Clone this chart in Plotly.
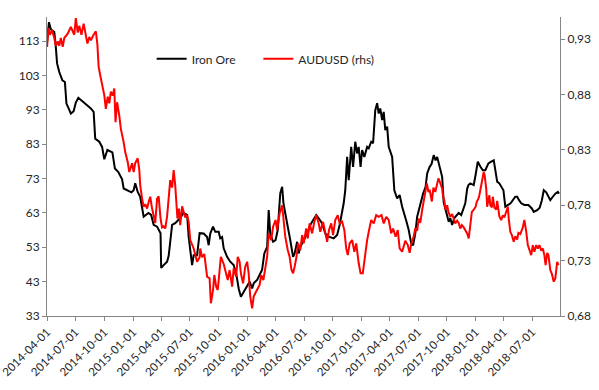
import plotly.graph_objects as go

iron_dates = [
 "2014-04-01","2014-04-07","2014-04-13","2014-04-24","2014-04-28","2014-05-03","2014-05-10","2014-05-20","2014-05-28",
 "2014-06-02","2014-06-09","2014-06-16","2014-06-25","2014-07-02","2014-07-10","2014-07-19","2014-08-03","2014-08-19",
 "2014-08-28","2014-09-02","2014-09-15","2014-09-24","2014-10-01","2014-10-11","2014-10-27","2014-11-04","2014-11-15",
 "2014-11-27","2014-12-02","2014-12-15","2014-12-27","2015-01-03","2015-01-08","2015-01-16","2015-01-24","2015-01-30",
 "2015-02-04","2015-02-19","2015-02-28","2015-03-08","2015-03-19","2015-03-30","2015-04-01","2015-04-09","2015-04-20",
 "2015-04-25","2015-04-30","2015-05-06","2015-05-16","2015-06-01","2015-06-11","2015-06-23","2015-06-28","2015-07-09",
 "2015-07-14","2015-07-25","2015-08-02","2015-08-15","2015-08-26","2015-08-31","2015-09-05","2015-09-14","2015-09-21",
 "2015-10-02","2015-10-07","2015-10-13","2015-10-18","2015-10-29","2015-11-08","2015-11-19","2015-11-27","2015-12-05",
 "2015-12-12","2015-12-21","2016-01-01","2016-01-09","2016-01-17","2016-01-22","2016-02-02","2016-02-12","2016-02-18",
 "2016-02-25","2016-03-05","2016-03-10","2016-03-15","2016-03-24","2016-04-01","2016-04-08","2016-04-13","2016-04-16",
 "2016-04-22","2016-04-26","2016-05-02","2016-05-10","2016-05-18","2016-05-27","2016-06-01","2016-06-09","2016-06-14",
 "2016-06-19","2016-06-30","2016-07-11","2016-07-21","2016-08-01","2016-08-09","2016-08-17","2016-08-28","2016-09-07",
 "2016-09-18","2016-10-04","2016-10-15","2016-10-23","2016-10-31","2016-11-05","2016-11-10","2016-11-16","2016-11-21",
 "2016-11-29","2016-12-05","2016-12-12","2016-12-18","2016-12-23","2016-12-29","2017-01-03","2017-01-10","2017-01-19",
 "2017-01-24","2017-02-01","2017-02-07","2017-02-14","2017-02-20","2017-02-25","2017-03-02","2017-03-08","2017-03-13",
 "2017-03-18","2017-03-24","2017-03-29","2017-04-09","2017-04-16","2017-04-25","2017-05-03","2017-05-11","2017-05-18",
 "2017-05-25","2017-06-01","2017-06-09","2017-06-15","2017-06-22","2017-06-28","2017-07-03","2017-07-11","2017-07-17",
 "2017-07-25","2017-07-30","2017-08-07","2017-08-13","2017-08-20","2017-08-26","2017-08-31","2017-09-05","2017-09-10",
 "2017-09-16","2017-09-21","2017-09-30","2017-10-07","2017-10-12","2017-10-18","2017-10-25","2017-11-01","2017-11-08",
 "2017-11-16","2017-11-22","2017-11-29","2017-12-05","2017-12-09","2017-12-15","2017-12-26","2018-01-01","2018-01-08",
 "2018-01-16","2018-01-24","2018-02-01","2018-02-11","2018-02-20","2018-02-28","2018-03-05","2018-03-11","2018-03-18",
 "2018-03-26","2018-03-31","2018-04-06","2018-04-14","2018-04-23","2018-05-08","2018-05-14","2018-05-20","2018-05-27",
 "2018-06-06","2018-06-19","2018-06-30","2018-07-06","2018-07-17","2018-07-25","2018-08-01","2018-08-07","2018-08-15",
 "2018-08-22","2018-08-28","2018-09-05","2018-09-13","2018-09-21","2018-09-25"]
iron_ore = [
 112.7,118.5,116.4,115.6,112.3,106.5,104,101.6,101.1,
 94.8,93.4,91.9,92.6,95.1,96.5,95.8,94.8,93.4,
 92.4,84.6,83.7,82.2,78.6,81.3,80.6,75.9,74.9,
 72.8,70.1,69.6,69.0,69.6,71.6,69.1,67.7,64.5,
 61.9,63,62.4,59.5,59,57.1,47,47.8,48.8,
 50.5,55.1,59.5,60,61.5,63,62.4,56,47.8,
 50.7,50.7,57.1,57,56,53.6,57,59,57.5,
 57.5,55.6,56,52.7,50.2,48.8,47.8,45.4,41,
 38.6,40.1,41.5,43,41,42.5,43.5,45.4,46.5,
 51.2,53.1,63.8,57,54.6,55.1,58,64,68.7,
 70.6,66,62.9,59.5,55.1,50.2,51.2,54.6,51.2,
 53.1,55.1,57,59.5,61.4,62.4,61.4,59.9,57,
 56.1,55.6,56.6,59.5,62.9,65.8,69.6,79.3,72.5,
 82.2,76.4,83.7,80.3,82.2,76.4,81.3,79.3,82.2,
 81.8,83.7,83.3,92.9,94.9,91.9,93.4,90,92.4,
 87.1,88.1,82.2,79.3,69.6,67.2,68.2,64.8,62.9,
 60.4,58,54.1,53.6,57,61.9,63.8,66.7,68.6,
 70.6,74.5,76.4,77.2,79.8,78.3,79.3,77.4,75.4,
 73.5,66,62.4,60.4,61.5,59.5,61.5,62.4,63,
 62.4,63.8,65.8,70,71.1,71.6,71.1,74.1,77.9,
 76.5,75.4,75.4,77.4,77.9,78.3,75.5,72.1,71.6,
 70.1,69.6,64.8,65.3,65.8,67.7,67.7,66.7,65.8,
 65.3,65.3,64.3,63.3,63.8,64.5,66.7,69.6,69,
 67.7,66.7,67.7,68.6,69.1,68.6]

aud_dates = [
 "2014-04-01","2014-04-05","2014-04-10","2014-04-17","2014-04-24","2014-04-29","2014-05-05","2014-05-10","2014-05-15",
 "2014-05-21","2014-05-26","2014-06-06","2014-06-16","2014-06-27","2014-07-02","2014-07-08","2014-07-13","2014-07-20",
 "2014-07-27","2014-08-03","2014-08-08","2014-08-14","2014-08-19","2014-08-28","2014-09-04","2014-09-09","2014-09-13",
 "2014-09-18","2014-09-26","2014-10-01","2014-10-06","2014-10-12","2014-10-17","2014-10-22","2014-10-28","2014-11-02",
 "2014-11-06","2014-11-11","2014-11-18","2014-11-23","2014-12-02","2014-12-07","2014-12-15","2014-12-20","2014-12-29",
 "2015-01-03","2015-01-08","2015-01-16","2015-01-21","2015-01-24","2015-01-30","2015-02-04","2015-02-09","2015-02-15",
 "2015-02-20","2015-02-25","2015-03-03","2015-03-08","2015-03-13","2015-03-19","2015-03-24","2015-03-30","2015-04-04",
 "2015-04-09","2015-04-14","2015-04-20","2015-04-25","2015-04-30","2015-05-06","2015-05-11","2015-05-16","2015-05-19",
 "2015-05-23","2015-05-28","2015-06-01","2015-06-07","2015-06-12","2015-06-17","2015-06-23","2015-06-28","2015-07-03",
 "2015-07-14","2015-07-25","2015-08-02","2015-08-04","2015-08-10","2015-08-17","2015-08-26","2015-09-03","2015-09-07",
 "2015-09-14","2015-09-18","2015-09-24","2015-09-29","2015-10-05","2015-10-09","2015-10-18","2015-10-26","2015-10-31",
 "2015-11-06","2015-11-14","2015-11-19","2015-11-27","2015-12-02","2015-12-08","2015-12-12","2015-12-19","2015-12-26",
 "2016-01-01","2016-01-06","2016-01-11","2016-01-17","2016-01-22","2016-01-27","2016-02-02","2016-02-10","2016-02-15",
 "2016-02-22","2016-02-28","2016-03-05","2016-03-10","2016-03-18","2016-03-24","2016-04-01","2016-04-06","2016-04-14",
 "2016-04-22","2016-04-27","2016-05-02","2016-05-10","2016-05-16","2016-05-22","2016-05-27","2016-06-01","2016-06-07",
 "2016-06-12","2016-06-19","2016-06-25","2016-06-30","2016-07-08","2016-07-13","2016-07-19","2016-07-27","2016-08-03",
 "2016-08-09","2016-08-17","2016-08-22","2016-08-31","2016-09-07","2016-09-13","2016-09-19","2016-09-26","2016-10-02",
 "2016-10-09","2016-10-17","2016-10-23","2016-10-31","2016-11-07","2016-11-13","2016-11-18","2016-11-24","2016-12-02",
 "2016-12-09","2016-12-15","2016-12-23","2016-12-29","2017-01-05","2017-01-11","2017-01-19","2017-01-24","2017-02-01",
 "2017-02-09","2017-02-17","2017-02-25","2017-03-06","2017-03-13","2017-03-21","2017-03-29","2017-04-06","2017-04-12",
 "2017-04-20","2017-04-27","2017-05-03","2017-05-11","2017-05-16","2017-05-21","2017-05-29","2017-06-04","2017-06-09",
 "2017-06-17","2017-06-22","2017-06-28","2017-07-03","2017-07-08","2017-07-14","2017-07-19","2017-07-25","2017-07-29",
 "2017-08-03","2017-08-07","2017-08-14","2017-08-19","2017-08-25","2017-08-31","2017-09-04","2017-09-10","2017-09-16",
 "2017-09-19","2017-09-23","2017-09-27","2017-10-02","2017-10-06","2017-10-12","2017-10-18","2017-10-22","2017-10-28",
 "2017-11-03","2017-11-08","2017-11-13","2017-11-18","2017-11-24","2017-12-05","2017-12-10","2017-12-15","2017-12-20",
 "2017-12-26","2018-01-01","2018-01-05","2018-01-10","2018-01-13","2018-01-21","2018-01-27","2018-01-30","2018-02-04",
 "2018-02-07","2018-02-11","2018-02-14","2018-02-17","2018-02-22","2018-02-25","2018-03-02","2018-03-08","2018-03-11",
 "2018-03-15","2018-03-18","2018-03-24","2018-03-29","2018-04-03","2018-04-09","2018-04-14","2018-04-17","2018-04-22",
 "2018-04-27","2018-05-03","2018-05-08","2018-05-14","2018-05-18","2018-05-24","2018-06-01","2018-06-06","2018-06-12",
 "2018-06-17","2018-06-22","2018-06-28","2018-07-03","2018-07-08","2018-07-14","2018-07-19","2018-07-24","2018-07-30",
 "2018-08-04","2018-08-09","2018-08-13","2018-08-18","2018-08-22","2018-08-28","2018-09-02","2018-09-08","2018-09-13",
 "2018-09-19","2018-09-23"]
audusd = [
 0.923,0.940,0.934,0.938,0.931,0.924,0.928,0.924,0.931,
 0.923,0.931,0.935,0.941,0.934,0.949,0.936,0.942,0.934,
 0.944,0.934,0.926,0.932,0.929,0.934,0.937,0.925,0.905,
 0.8975,0.887,0.8795,0.867,0.878,0.872,0.8825,0.879,0.8855,
 0.855,0.873,0.861,0.849,0.837,0.828,0.819,0.810,0.818,
 0.810,0.818,0.8224,0.812,0.798,0.786,0.7786,0.781,0.777,
 0.783,0.7877,0.777,0.771,0.764,0.786,0.788,0.768,0.760,
 0.761,0.759,0.770,0.791,0.8027,0.796,0.8118,0.798,0.780,
 0.768,0.777,0.762,0.779,0.773,0.769,0.771,0.765,0.7486,
 0.741,0.729,0.733,0.741,0.733,0.736,0.7155,0.714,0.6915,
 0.7035,0.717,0.7065,0.7035,0.7215,0.7335,0.727,0.7185,0.7125,
 0.7215,0.7065,0.723,0.7155,0.7335,0.729,0.7185,0.7095,0.7245,
 0.729,0.7185,0.6975,0.687,0.6975,0.7005,0.7035,0.708,0.717,
 0.7125,0.723,0.7335,0.7546,0.7486,0.7606,0.7667,0.7576,0.7727,
 0.780,0.768,0.7516,0.7396,0.7335,0.7215,0.7185,0.7245,0.7335,
 0.7456,0.7396,0.753,0.7456,0.759,0.750,0.7636,0.7546,0.765,
 0.7711,0.7636,0.756,0.765,0.7546,0.747,0.7576,0.7636,0.753,
 0.7667,0.7711,0.7636,0.7652,0.7576,0.741,0.735,0.7456,0.7486,
 0.738,0.7456,0.7276,0.7185,0.7185,0.7335,0.7486,0.756,0.7667,
 0.7636,0.7711,0.7696,0.7711,0.7636,0.7696,0.7667,0.7546,0.759,
 0.7516,0.7576,0.741,0.738,0.742,0.748,0.744,0.737,0.745,
 0.752,0.759,0.757,0.768,0.764,0.7757,0.7847,0.792,0.7998,
 0.792,0.794,0.7834,0.796,0.792,0.7998,0.8043,0.800,0.795,
 0.7877,0.784,0.7757,0.780,0.774,0.7696,0.772,0.768,0.7636,
 0.766,0.764,0.759,0.762,0.760,0.7546,0.750,0.760,0.774,
 0.776,0.7787,0.7834,0.786,0.789,0.800,0.810,0.807,0.795,
 0.7787,0.784,0.789,0.780,0.778,0.7877,0.778,0.776,0.784,
 0.776,0.770,0.7666,0.771,0.769,0.774,0.7787,0.768,0.756,
 0.753,0.747,0.752,0.749,0.755,0.754,0.760,0.7667,0.756,
 0.744,0.740,0.735,0.744,0.738,0.744,0.741,0.744,0.739,
 0.741,0.735,0.726,0.737,0.735,0.7215,0.718,0.711,0.714,
 0.729,0.726]

FONT = "Lato"
TXT = "#262626"
AX = "#868686"

fig = go.Figure()
fig.add_trace(go.Scatter(x=iron_dates, y=iron_ore, name="Iron Ore", mode="lines",
                         line=dict(color="#000000", width=2), legend="legend"))
fig.add_trace(go.Scatter(x=aud_dates, y=audusd, name="AUDUSD (rhs)", mode="lines",
                         line=dict(color="#ff0000", width=2), yaxis="y2", legend="legend2"))

fig.update_layout(
    width=599, height=390,
    margin=dict(l=47, r=39, t=17, b=74),
    paper_bgcolor="white", plot_bgcolor="white",
    font=dict(family=FONT, size=12, color=TXT),
    separators=",.",
    showlegend=True,
    legend=dict(x=0.204, y=0.86, xanchor="left", yanchor="middle", orientation="h",
                bgcolor="rgba(0,0,0,0)", font=dict(family=FONT, size=12, color=TXT)),
    legend2=dict(x=0.412, y=0.86, xanchor="left", yanchor="middle", orientation="h",
                 bgcolor="rgba(0,0,0,0)", font=dict(family=FONT, size=12, color=TXT)),
    xaxis=dict(type="date", range=["2014-03-31 18:00", "2018-09-28"], tick0="2014-04-01", dtick="M3",
               tickformat="%Y-%m-%d", tickangle=-45, showgrid=False, zeroline=False, automargin=False,
               ticklabeloverflow="allow",
               showline=True, linecolor=AX, linewidth=1, ticks="outside", ticklen=4,
               tickcolor=AX, tickfont=dict(family=FONT, size=11.5, color=TXT)),
    yaxis=dict(range=[33, 120], tick0=33, dtick=10, showgrid=False, zeroline=False, automargin=False,
               ticklabeloverflow="allow",
               showline=True, linecolor=AX, linewidth=1, ticks="outside", ticklen=4,
               tickcolor=AX, tickfont=dict(family=FONT, size=12, color=TXT)),
    yaxis2=dict(range=[0.68, 0.95], tick0=0.68, dtick=0.05, tickformat=".2f", automargin=False,
                ticklabeloverflow="allow",
                overlaying="y", side="right", showgrid=False, zeroline=False,
                showline=True, linecolor=AX, linewidth=1, ticks="outside", ticklen=4,
                tickcolor=AX, tickfont=dict(family=FONT, size=12, color=TXT)),
)

# remove the page's default body margin so the figure fills the window; hide the modebar
fig.write_html("out.html", config={"displayModeBar": False},
               post_script="document.body.style.margin='0';")
